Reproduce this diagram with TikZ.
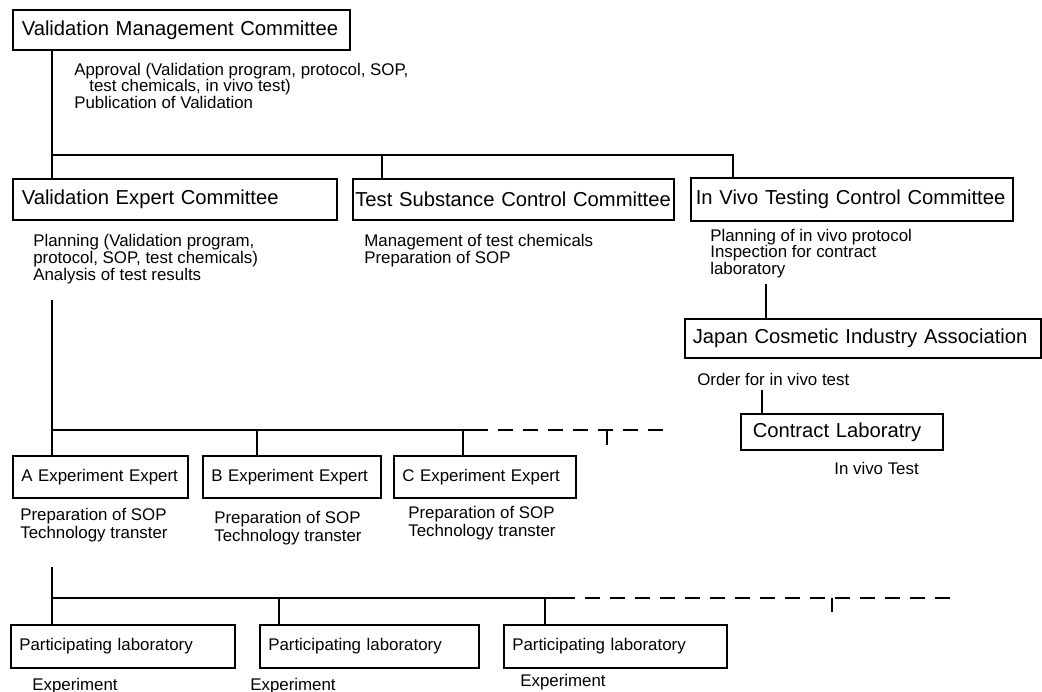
\documentclass[tikz,border=0pt]{standalone}
\usepackage{fontspec}
\setmainfont{Liberation Sans}
\usetikzlibrary{positioning}

\begin{document}
\begin{tikzpicture}[x=0.02cm, y=-0.02cm,
        committee/.style={draw, line width=0.9pt, rectangle, anchor=north west, align=left, inner xsep=0.18cm, minimum height=0.82cm, font=\fontsize{11.5}{13}\selectfont},
        expertbox/.style={draw, line width=0.9pt, rectangle, anchor=north west, align=left, inner xsep=0.17cm, minimum height=0.84cm, font=\fontsize{9.6}{11}\selectfont},
        note/.style={anchor=base west, align=left, inner sep=0pt, font=\fontsize{9.6}{9.2}\selectfont},
        link/.style={line width=0.8pt},
        future/.style={line width=0.8pt, dash pattern=on 0.3cm off 0.2cm}
    ]
        \path[use as bounding box, fill=white] (0,0) rectangle (1042,691);

        % Committees
        \node[committee, text width=6.38cm, minimum height=0.8cm] (vmc) at (12,9) {Validation Management Committee};
        \node[committee, text width=6.12cm] (vec) at (12,178) {Validation Expert Committee};
        \node[committee, text width=6.32cm, inner xsep=0.05cm] (tscc) at (352,178) {Test Substance Control Committee};
        \node[committee, text width=6.24cm, inner xsep=0.1cm, minimum height=0.86cm] (ivtcc) at (690,177) {In Vivo Testing Control Committee};
        \node[committee, text width=6.8cm, inner xsep=0.16cm, minimum height=0.78cm] (jcia) at (684,318) {Japan Cosmetic Industry Association};
        \node[committee, text width=3.56cm, inner xsep=0.24cm, minimum height=0.72cm] (contract) at (740,413) {Contract Laboratry};

        % Experts and laboratories
        \node[expertbox, text width=3.16cm] (expa) at (12,455) {A Experiment Expert};
        \node[expertbox, text width=3.22cm] (expb) at (202,455) {B Experiment Expert};
        \node[expertbox, text width=3.3cm] (expc) at (393,455) {C Experiment Expert};
        \node[expertbox, text width=4.14cm, minimum height=0.86cm] (laba) at (10,624) {Participating laboratory};
        \node[expertbox, text width=4.04cm, minimum height=0.86cm] (labb) at (259,624) {Participating laboratory};
        \node[expertbox, text width=4.12cm, minimum height=0.86cm] (labc) at (503,624) {Participating laboratory};

        % Tasks (placed at the baseline of their last line)
        \node[note] (vmcnote) at (74,108) {Approval (Validation program, protocol, SOP,\\\hspace*{0.3cm}test chemicals, in vivo test)\\Publication of Validation};
        \node[note, font=\fontsize{9.6}{9.6}\selectfont] (vecnote) at (33,280) {Planning (Validation program,\\protocol, SOP, test chemicals)\\Analysis of test results};
        \node[note, font=\fontsize{9.6}{9.6}\selectfont] (tsccnote) at (364,263) {Management of test chemicals\\Preparation of SOP};
        \node[note] (ivtccnote) at (710,274) {Planning of in vivo protocol\\Inspection for contract\\laboratory};
        \node[note] (jcianote) at (697,385) {Order for in vivo test};
        \node[note] (contractnote) at (834,474) {In vivo Test};
        \node[note, font=\fontsize{9.6}{9.8}\selectfont] (expanote) at (20,538) {Preparation of SOP\\Technology transter};
        \node[note, font=\fontsize{9.6}{9.8}\selectfont] (expbnote) at (214,541) {Preparation of SOP\\Technology transter};
        \node[note, font=\fontsize{9.6}{9.8}\selectfont] (expcnote) at (408,536) {Preparation of SOP\\Technology transter};
        \node[note] (labanote) at (32,690) {Experiment};
        \node[note] (labbnote) at (250,690) {Experiment};
        \node[note] (labcnote) at (520,686) {Experiment};

        % Junctions
        \coordinate (j1) at (52,155);
        \coordinate (j1b) at (382,155);
        \coordinate (j1c) at (733,155);
        \coordinate (vectail) at (52,300);
        \coordinate (j2) at (52,430);
        \coordinate (j2b) at (257,430);
        \coordinate (j2c) at (463,430);
        \coordinate (j2d) at (607,430);
        \coordinate (j2end) at (668,430);
        \coordinate (exptail) at (52,567);
        \coordinate (j3) at (52,598);
        \coordinate (j3b) at (279,598);
        \coordinate (j3c) at (545,598);
        \coordinate (j3d) at (832,598);
        \coordinate (j3end) at (955,598);
        \coordinate (ivtcctail) at (766,284);
        \coordinate (jciatail) at (762,390);

        % Connectors
        \draw[link] (vmc.south -| j1) -- (vec.north -| j1);
        \draw[link] (j1) -- (j1c) -- (ivtcc.north -| j1c);
        \draw[link] (j1b) -- (tscc.north -| j1b);
        \draw[link] (vectail) -- (expa.north -| vectail);
        \draw[link] (j2) -- (j2c) -- ++(10,0);
        \draw[future] (j2c) ++(10,0) -- (j2end);
        \draw[link] (j2b) -- (expb.north -| j2b);
        \draw[link] (j2c) -- (expc.north -| j2c);
        \draw[link] (j2d) -- ++(0,15);
        \draw[link] (exptail) -- (laba.north -| exptail);
        \draw[link] (j3) -- (j3c) -- ++(15,0);
        \draw[future] (j3c) ++(15,0) -- (j3end);
        \draw[link] (j3b) -- (labb.north -| j3b);
        \draw[link] (j3c) -- (labc.north -| j3c);
        \draw[link] (j3d) -- ++(0,14);
        \draw[link] (ivtcctail) -- (jcia.north -| ivtcctail);
        \draw[link] (jciatail) -- (contract.north -| jciatail);

    \end{tikzpicture}
\end{document}
